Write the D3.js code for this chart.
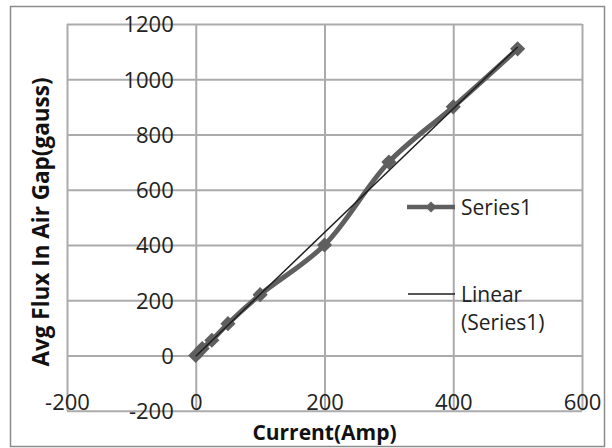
<!DOCTYPE html>
<html>
<head>
<meta charset="utf-8">
<script src="https://cdn.jsdelivr.net/npm/d3@7"></script>
<style>
  body { margin: 0; background: #fff; }
  svg { display: block; font-family: "Open Sans", sans-serif; }
</style>
</head>
<body>
<svg id="chart" width="612" height="448"></svg>
<script>
// values
var current = [0, 10, 25, 50, 100, 200, 300, 400, 500];
var flux = [0, 25, 55, 115, 220, 400, 700, 900, 1110];
var xTicks = [-200, 0, 200, 400, 600];
var yTicks = [-200, 0, 200, 400, 600, 800, 1000, 1200];
var seriesName = "Series1";
var trendName = ["Linear", "(Series1)"];

var svg = d3.select("#chart");
var gridColor = "#ababab";
var seriesColor = "#5f5f5f";
var plain = function(d) { return String(d); };

svg.append("rect").attr("x", 10.5).attr("y", 6.5).attr("width", 594).attr("height", 440)
    .attr("fill", "#fff").attr("stroke", "#8c8c8c").attr("stroke-width", 1.5);

var x = d3.scaleLinear().domain([-200, 600]).range([67, 582]);
var y = d3.scaleLinear().domain([-200, 1200]).range([410.7, 24]);
var plotW = x.range()[1] - x.range()[0];
var plotH = y.range()[0] - y.range()[1];

// vertical grid + x labels
var xAxis = svg.append("g").attr("transform", "translate(0," + y(-200) + ")")
    .call(d3.axisBottom(x).tickValues(xTicks).tickSize(-plotH).tickFormat(plain));
xAxis.select(".domain").remove();
xAxis.selectAll("line").attr("stroke", gridColor).attr("stroke-width", 2);
xAxis.selectAll("text").attr("y", -1).attr("dy", 0)
    .attr("font-size", 22).attr("fill", "#222").attr("font-family", "Open Sans");

// horizontal grid + y labels
var yAxis = svg.append("g").attr("transform", "translate(" + x(-200) + ",0)")
    .call(d3.axisLeft(y).tickValues(yTicks).tickSize(-plotW).tickFormat(plain));
yAxis.select(".domain").remove();
yAxis.selectAll("line").attr("stroke", gridColor).attr("stroke-width", 2);
yAxis.selectAll("text").attr("x", x(0) - x(-200) - 22).attr("dy", "0.36em")
    .attr("font-size", 22).attr("fill", "#222").attr("font-family", "Open Sans");

// series
var pts = current.map(function(c, i) { return [c, flux[i]]; });
var line = d3.line().x(function(d) { return x(d[0]); }).y(function(d) { return y(d[1]); })
    .curve(d3.curveCatmullRom);
svg.append("path").datum(pts).attr("d", line).attr("fill", "none")
    .attr("stroke", seriesColor).attr("stroke-width", 5);

var diamond = d3.symbol().type(d3.symbolSquare).size(115);
svg.selectAll(".marker").data(pts).enter().append("path").attr("class", "marker")
    .attr("d", diamond).attr("fill", seriesColor)
    .attr("transform", function(d) { return "translate(" + x(d[0]) + "," + y(d[1]) + ") rotate(45)"; });

// linear trend line (least squares)
var mx = d3.mean(current), my = d3.mean(flux);
var slope = d3.sum(current, function(c, i) { return (c - mx) * (flux[i] - my); }) /
    d3.sum(current, function(c) { return (c - mx) * (c - mx); });
var icpt = my - slope * mx;
var xr = d3.extent(current);
svg.append("line")
    .attr("x1", x(xr[0])).attr("y1", y(icpt + slope * xr[0]))
    .attr("x2", x(xr[1])).attr("y2", y(icpt + slope * xr[1]))
    .attr("stroke", "#1e1e1e").attr("stroke-width", 1.5);

// legend
var lg = svg.append("g");
lg.append("line").attr("x1", 407).attr("x2", 455).attr("y1", 207).attr("y2", 207)
    .attr("stroke", seriesColor).attr("stroke-width", 4.5);
lg.append("path").attr("d", d3.symbol().type(d3.symbolSquare).size(60)())
    .attr("fill", seriesColor).attr("transform", "translate(431,207) rotate(45)");
lg.append("text").attr("x", 461).attr("y", 215).attr("font-size", 21).attr("fill", "#222").text(seriesName);
lg.append("line").attr("x1", 408).attr("x2", 455).attr("y1", 294).attr("y2", 294)
    .attr("stroke", "#1e1e1e").attr("stroke-width", 1.5);
lg.selectAll(".trendlbl").data(trendName).enter().append("text").attr("class", "trendlbl")
    .attr("x", 461).attr("y", function(d, i) { return 302 + i * 28; })
    .attr("font-size", 21).attr("fill", "#222").text(function(d) { return d; });

// axis titles
svg.append("text").attr("x", (x.range()[0] + x.range()[1]) / 2).attr("y", 440)
    .attr("text-anchor", "middle").attr("font-size", 21).attr("font-weight", "bold")
    .attr("fill", "#111").text("Current(Amp)");
svg.append("text").attr("transform", "translate(49,222) rotate(-90)")
    .attr("text-anchor", "middle").attr("font-size", 22.5).attr("font-weight", "bold")
    .attr("fill", "#111").text("Avg Flux In Air Gap(gauss)");
</script>
</body>
</html>
